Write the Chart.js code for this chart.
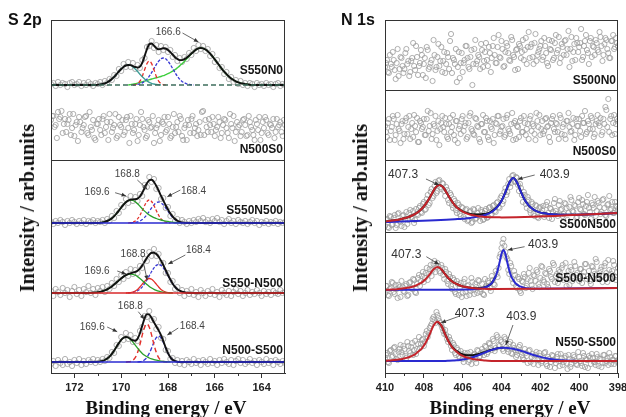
<!DOCTYPE html>
<html><head><meta charset="utf-8">
<script src="https://cdn.jsdelivr.net/npm/chart.js@4.4.1/dist/chart.umd.min.js"></script>
<style>
html,body{margin:0;padding:0;background:#fff;}
#wrap{position:relative;width:626px;height:417px;overflow:hidden;background:#fff;}
canvas{position:absolute;top:0;}
.t{position:absolute;white-space:nowrap;color:#111;}
.ptitle{font:bold 16px "Liberation Sans",Arial,sans-serif;line-height:16px;}
.xt{font:bold 19px "Liberation Serif","Times New Roman",serif;line-height:19px;transform:translateX(-50%);}
.yt{font:bold 20px "Liberation Serif","Times New Roman",serif;line-height:20px;transform:translate(-50%,-50%) rotate(-90deg);}
</style></head>
<body><div id="wrap">
<canvas id="cS" width="313" height="417" style="left:0"></canvas>
<canvas id="cN" width="313" height="417" style="left:313px"></canvas>
<div class="t ptitle" style="left:8px;top:12px">S 2p</div>
<div class="t ptitle" style="left:341px;top:12px">N 1s</div>
<div class="t yt" style="left:26.5px;top:208px">Intensity / arb.units</div>
<div class="t yt" style="left:359.5px;top:208px">Intensity / arb.units</div>
<div class="t xt" style="left:166px;top:398px">Binding energy / eV</div>
<div class="t xt" style="left:510px;top:398px">Binding energy / eV</div>
</div>
<script>
// ---------- axes ----------
const sRange = [173, 163];
const nRange = [410, 398];
const sTicks = [172, 170, 168, 166, 164];
const sMinor = [171, 169, 167, 165];
const nTicks = [410, 408, 406, 404, 402, 400, 398];
const nMinor = [409, 407, 405, 403, 401, 399];

// ---------- S 2p (stack offsets, a.u.) ----------
const sNames = ['S550N0', 'N500S0', 'S550N500', 'S550-N500', 'N500-S500'];
const sOffsets = [288, 243, 150, 80, 11];
const sDividers = [213];

// measured points, 173.0 -> 163.0 eV, 0.1 eV step
const s1Pts = [1,2,-1,3,0,2,1,-2,2,3, 0,1,3,-1,2,0,3,1,-1,2, 1,3,0,4,2,6,5,10,9,16, 14,21,18,23,18,22,16,20,17,25, 27,38,39,44,37,40,33,39,35,38, 33,35,28,30,24,27,23,28,26,32, 30,37,34,40,36,39,34,36,29,31, 23,25,17,18,11,13,6,8,3,5, 1,4,0,2,-1,2,1,-2,2,0, 1,-1,2,0,1,-2,1,2,-1,1, 0];
const s2Pts = [10,14,5,18,13,-3,11,6,16,2, -6,8,13,-2,5,14,-5,3,10,-10, 6,0,11,-3,8,16,-2,5,-8,13, 3,-5,10,2,14,-3,6,-11,5,11, 0,-6,8,3,-13,2,10,-5,6,-2, 13,-8,3,-3,8,14,-6,2,-10,5, 11,-3,6,0,-5,19,10,-2,5,13, -6,3,8,-3,11,2,-8,6,14,-2, 3,-6,10,5,-5,8,0,-10,6,13, -3,2,10,-5,5,11,-2,3,8,-6, 5];
// second scan of N500S0, 172.95 -> 163.05 eV
const s2Pts2 = [14,3,-8,11,19,6,-2,10,-5,16, 5,-11,8,2,13,-3,18,0,-8,6, 11,-5,14,3,-10,8,2,16,-6,5, 10,-2,13,-13,6,0,11,-5,18,3, -8,10,2,14,-3,5,-11,8,13,0, 6,-6,16,3,-2,11,-10,5,10,-3, 14,2,-6,8,18,-5,3,11,-2,6, 0,13,-8,5,10,-3,16,2,-11,8, 5,-2,11,-6,14,3,-5,10,0,-10, 8,13,-3,6,2,-8,11,5,-2,10];
const s3Pts = [1,-1,2,0,3,1,-2,2,0,3, 1,-1,2,0,3,-1,2,1,3,0, 2,1,3,0,4,2,7,5,12,10, 18,16,24,20,27,22,26,22,29,27, 38,36,46,41,44,34,35,24,25,15, 16,7,9,2,4,0,3,1,-1,2, 0,3,1,4,2,5,1,3,0,4, 2,5,1,3,-1,2,4,0,2,-1, 3,1,0,2,-1,1,3,0,2,-2, 1,0,2,-1,1,0,2,-1,1,0, 1];
const s4Pts = [2,-3,4,1,-2,5,0,3,-4,2, 6,-1,3,-3,4,1,7,0,4,-2, 5,2,6,1,7,4,10,7,14,11, 18,14,21,17,24,19,23,20,27,25, 34,32,41,37,44,37,39,30,30,20, 20,11,12,4,6,0,3,-3,2,-1, 4,-2,1,-4,3,0,-3,2,-1,4, -2,1,-4,3,0,-2,2,-3,1,4, -1,2,-3,0,3,-2,1,-1,3,0, -3,2,-1,1,-2,2,0,-1,3,0, 1];
const s5Pts = [-2,1,-4,2,-1,-3,3,-2,0,-4, 2,-1,3,-3,1,-2,2,0,3,-1, 2,0,3,1,5,4,10,9,17,16, 25,22,29,23,27,20,24,21,31,35, 46,45,51,42,43,33,35,24,23,12, 11,3,4,-1,2,-2,1,-3,2,0, -2,3,-1,1,-3,2,0,-2,3,-1, 1,-3,2,-1,3,0,-2,2,-3,1, 3,-1,2,-2,0,3,-1,1,-3,2, 0,-2,3,-1,1,-3,2,0,-2,1, -1];

// fitted components, 0.1 eV step, first energy given by *From
const s1CyanFrom = 171.1;
const s1Cyan = [0,0.3,0.6,1.0,1.7,2.7,4.1,6.0,8.2,10.8,13.5,16.0,18.1,19.5,20,19.5,18.1,16.0,13.5,10.8,8.2,6.0,4.1,2.7,1.7,1.0,0.6,0.3,0];
const s1RedFrom = 169.5;
const s1Red = [0,0.4,1.4,3.9,8.6,15.3,21.4,24,21.4,15.3,8.6,3.9,1.4,0.4,0];
const s1BlueFrom = 169.5;
const s1Blue = [0,0.3,0.6,1.2,2.2,3.6,5.8,8.8,12.4,16.4,20.4,23.8,26.2,27,26.2,23.8,20.4,16.4,12.4,8.8,5.8,3.6,2.2,1.2,0.6,0.3,0];
const s1GreenFrom = 169.7;
const s1Green = [0,0.4,0.8,1.3,1.9,2.5,3.2,3.9,4.6,5.3,6.0,6.6,7.2,7.8,8.5,9.3,10.3,11.3,12.5,13.9,15.4,17.2,19.1,21.3,23.6,26.1,28.7,31.2,33.5,35.4,36.6,37,36.6,35.5,33.8,31.4,28.7,25.6,22.4,19.3,16.2,13.3,10.8,8.5,6.6,5.0,3.7,2.7,1.9,1.4,0.9,0.6,0.3,0];
const s1EnvFrom = 171.1;
const s1Env = [0,0.3,0.6,1.0,1.7,2.7,4.1,6.0,8.2,10.8,13.5,16.0,18.1,19.5,20.0,19.9,18.9,18.0,17.4,18.4,22.2,28.8,35.9,40.8,41.5,39.3,36.8,35.8,36.1,36.7,36.5,35.1,32.9,30.3,27.8,26.0,24.9,24.9,25.8,27.3,29.3,31.5,33.5,35.4,36.6,37,36.6,35.5,33.8,31.4,28.7,25.6,22.4,19.3,16.2,13.3,10.8,8.5,6.6,5.0,3.7,2.7,1.9,1.4,0.9,0.6,0.3,0];

const s3GreenFrom = 171.0;
const s3Green = [0,0.3,0.6,1.2,2.0,3.1,4.7,6.9,9.5,12.4,15.5,18.4,20.8,22.4,23,22.5,21.2,19.2,16.8,14.3,11.9,9.8,8.0,6.6,5.4,4.5,3.7,3.0,2.4,1.9,1.5,1.1,0.8,0.5,0.3,0.1,0];
const s3RedFrom = 169.7;
const s3Red = [0,0.3,0.8,2.0,4.1,7.7,12.4,17.5,21.5,23,21.5,17.5,12.4,7.7,4.1,2.0,0.8,0.3,0];
const s3BlueFrom = 169.6;
const s3Blue = [0,0.3,0.5,1.1,2.0,3.5,5.6,8.4,11.7,15.1,18.1,20.2,21,20.2,18.1,15.1,11.7,8.4,5.6,3.5,2.0,1.1,0.5,0.3,0];
const s3EnvFrom = 171.0;
const s3Env = [0,0.3,0.6,1.2,2.0,3.1,4.7,6.9,9.5,12.4,15.5,18.4,20.8,22.4,23.3,23.6,23.7,24.4,26.5,30.2,35.0,39.7,42.7,43.2,41.0,37.1,32.4,27.3,22.5,17.8,13.5,9.5,6.4,4.0,2.3,1.2,0.5,0.3,0];

const s4GreenFrom = 171.4;
const s4Green = [0,0.2,0.3,0.5,0.7,1.2,1.8,2.6,3.6,5.0,6.6,8.5,10.5,12.6,14.6,16.4,17.8,18.7,19,18.7,17.8,16.4,14.6,12.6,10.5,8.5,6.6,5.0,3.6,2.6,1.8,1.2,0.7,0.5,0.3,0.2,0];
const s4RedFrom = 169.8;
const s4Red = [0,0.2,0.4,1.0,2.0,3.6,6.0,8.8,11.6,13.7,14.5,13.7,11.6,8.8,6.0,3.6,2.0,1.0,0.4,0.2,0];
const s4BlueFrom = 169.7;
const s4Blue = [0,0.3,0.7,1.3,2.3,3.8,6.2,9.3,13.1,17.3,21.5,25.1,27.6,28.5,27.6,25.1,21.5,17.3,13.1,9.3,6.2,3.8,2.3,1.3,0.7,0.3,0];
const s4EnvFrom = 171.4;
const s4Env = [0,0.2,0.3,0.5,0.7,1.2,1.8,2.6,3.6,5.0,6.6,8.5,10.5,12.6,14.6,16.4,17.8,18.9,19.7,20.4,21.1,22.3,24.4,27.6,31.4,35.3,38.4,40.2,40.3,39.0,36.3,32.4,27.8,23.0,18.0,13.5,9.3,6.2,3.8,2.3,1.3,0.7,0.3,0];

const s5GreenFrom = 171.1;
const s5Green = [0,0.3,0.6,1.1,2.0,3.4,5.4,8.1,11.5,15.2,18.9,22.1,24.2,25,24.3,22.5,19.9,16.9,13.8,11.0,8.6,6.7,5.2,4.0,3.1,2.4,1.8,1.3,0.9,0.6,0.3,0.1,0];
const s5RedFrom = 169.8;
const s5Red = [0,0.2,0.5,1.7,4.3,9.5,17.4,26.9,34.8,38,34.8,26.9,17.4,9.5,4.3,1.7,0.5,0.2,0];
const s5BlueFrom = 169.3;
const s5Blue = [0,0.3,0.9,2.2,4.7,8.7,14.0,19.8,24.3,26,24.3,19.8,14.0,8.7,4.7,2.2,0.9,0.3,0];
const s5EnvFrom = 171.1;
const s5Env = [0,0.3,0.6,1.1,2.0,3.4,5.4,8.1,11.5,15.2,18.9,22.1,24.2,25,24.5,23.0,21.6,21.2,23.3,28.7,36.4,43.7,47.9,47.5,44.0,39.6,35.6,31.6,26.9,20.9,14.5,8.8,4.7,2.2,0.9,0.3,0];

// ---------- N 1s ----------
const nNames = ['S500N0', 'N500S0', 'S500N500', 'S500-N500', 'N550-S500'];
const nOffsets = [318, 244, 151, 83, 12];
const nDividers = [283, 213, 141];

// measured points, 410.0 -> 398.0 eV, 0.1 eV step
const n1Pts = [-12,-5,-18,-9,3,-15,-8,-21,-2,-11, -14,6,-6,-17,-3,-11,9,-20,-8,0, -9,-23,5,-12,-5,15,-15,-2,-11,8, -6,-18,2,-14,21,-3,-9,-27,3,-8, -17,-5,9,-12,-2,-30,6,-9,0,-14, 5,-6,12,-11,2,-3,17,-8,8,-2, 14,-12,3,9,-5,18,0,-15,6,11, -3,15,5,-9,23,8,-2,12,-6,3, 9,-5,17,2,-11,6,14,-3,20,5, -8,11,0,15,6,-12,18,3,-5,12, 8,26,-2,14,5,-9,17,9,0,12, 3,18,-6,11,15,2,-3,14,6,17, 9];
const n2Pts = [3,-8,10,-2,13,-11,5,0,-14,8, -5,11,2,-10,6,14,-3,-13,8,0, 10,-6,18,3,-10,5,13,-2,-16,6, 2,11,-8,5,-3,14,-11,8,0,-5, 13,3,-10,6,16,-2,-6,10,2,-13, 5,-3,11,-8,8,0,-14,6,13,-5, 2,10,-6,14,-2,5,-11,8,3,-8, 11,-3,6,0,-10,13,5,-5,16,2, -6,8,-2,11,3,-13,10,0,6,-3, 14,-5,5,-10,8,2,-2,11,-6,3, 10,-8,6,18,-3,5,13,0,-5,8, 6,11,-3,5,19,30,10,-6,14,5, 8];
const n3Pts = [-4,3,-6,5,-2,7,-3,9,0,6, -5,10,2,12,4,-1,13,7,16,9, 20,13,27,19,33,26,40,31,42,33, 38,26,32,19,27,14,21,9,17,6, 14,3,13,2,11,0,12,4,14,1, 10,3,13,5,15,8,17,10,20,14, 26,21,34,30,43,39,47,40,44,31, 34,20,27,14,22,9,18,6,16,4, 15,12,5,17,9,14,3,19,11,6, 21,13,8,18,2,15,22,10,16,5, 24,12,18,7,20,14,3,17,25,11, 19,8,22,14,6,18,12,20,9,16, 13];
const n4Pts = [-3,4,-6,2,7,-4,1,5,-7,3, -2,6,-5,8,1,10,-3,12,4,14, 8,17,10,21,14,26,18,27,19,25, 15,21,9,16,4,12,-2,9,-5,7, -3,11,-6,5,-1,8,-4,3,10,-2, 6,-5,4,9,2,14,6,19,13,33, 42,51,38,31,16,24,7,15,2,11, -3,8,13,4,17,9,1,14,20,6, 12,23,8,16,3,19,11,25,14,7, 18,22,10,27,15,5,20,12,24,17, 9,21,14,26,11,19,6,23,16,28, 13,20,8,24,17,30,12,19,25,10, 22];
const n5Pts = [3,8,-2,11,5,14,2,9,16,6, 12,3,15,8,18,11,7,17,13,21, 15,27,24,33,37,44,38,46,40,36, 30,31,22,24,15,18,8,13,5,10, 2,8,4,-1,9,3,7,-2,10,5, 12,6,14,9,17,11,20,13,24,15, 19,10,22,12,17,8,16,11,6,14, 9,3,12,5,10,-1,7,2,9,-4, 5,0,8,-3,4,-6,6,1,-2,7, -5,3,-1,5,-8,2,-3,6,0,-4, 4,-2,8,-6,1,5,-3,3,-1,7, -5,2,-2,6,0,-4,4,1,-3,5, 0];
// second scans, 409.95 -> 398.05 eV, 0.1 eV step
const n1Pts2 = [-8,-17,0,-12,-5,-24,6,-14,-3,-18, 2,-9,-21,-6,12,-15,-2,-11,5,-20, -3,8,-14,-8,-26,0,-12,11,-6,-17, 3,-9,-2,14,-18,-5,6,-12,-23,2, -8,9,-3,-14,5,-9,15,-6,-2,11, -12,3,-5,8,-17,9,0,-8,20,-3, 6,-11,12,2,-6,15,-2,5,-14,9, 3,-5,17,8,-3,11,-9,21,0,6, 14,-2,9,-8,15,5,-5,12,2,18, -3,8,14,0,24,6,-6,11,17,3, 12,-5,9,20,2,14,-2,8,15,5, 23,9,0,17,6,-3,14,20,8,12];
const n2Pts2 = [-3,6,-11,2,10,-6,14,-2,5,-10, 8,-5,13,0,-8,3,11,-13,6,2, -6,10,-2,16,-5,3,-11,8,0,13, -3,5,-10,11,2,-6,8,-14,3,10, -2,6,-8,13,0,-5,11,3,-10,5, 14,-3,8,-11,2,10,-6,5,13,-2, 3,-8,11,0,-5,16,6,-10,2,8, -3,13,-6,5,10,-2,3,-11,8,14, 0,-5,10,2,-8,6,13,-3,5,-10, 11,2,-6,8,16,-3,5,-11,10,3, -2,13,6,-5,8,0,11,-8,5,14, 3,-6,10,22,2,-3,13,6,-5,10];
const n3Pts2 = [2,-5,6,-3,4,-6,8,1,-4,7, 3,-2,9,5,11,2,8,14,10,18, 12,23,17,30,24,36,29,41,35,39, 31,35,22,29,17,23,12,19,8,15, 5,12,1,10,-1,13,3,9,6,12, 2,11,4,14,7,16,11,19,15,24, 18,30,27,38,35,46,41,45,37,38, 27,30,18,25,12,20,8,17,5,14, 9,16,7,20,4,13,10,23,8,17, 12,6,19,14,9,25,11,17,4,20, 13,22,8,16,27,10,19,14,6,21, 15,10,23,7,17,26,13,9,20,15];
const n4Pts2 = [4,-5,1,8,-2,5,-8,3,9,-1, 4,-6,7,2,11,-2,6,15,9,18, 12,22,16,25,20,29,23,24,17,22, 11,18,6,13,1,10,-4,6,2,-7, 8,-2,4,-5,12,0,6,-3,9,1, -4,11,3,7,-1,10,5,16,22,36, 47,44,33,20,27,11,19,4,13,-1, 9,16,2,11,22,5,15,9,18,3, 24,10,17,6,21,13,27,8,16,20, 11,25,14,4,19,23,9,28,15,12, 21,7,18,26,14,9,24,19,31,11, 17,23,14,27,8,20,16,29,13,18];
const n5Pts2 = [6,-1,10,4,13,7,1,12,9,15, 5,19,10,14,6,20,12,24,17,22, 19,30,28,35,42,41,49,43,38,33, 27,26,19,21,11,16,6,11,3,7, -1,5,8,1,-3,6,2,11,4,8, 9,15,7,18,13,22,10,26,16,21, 12,24,14,9,19,7,13,4,10,16, 6,1,8,-2,11,4,-3,6,1,8, -2,3,9,-5,2,-1,5,-7,4,0, 7,-4,3,-2,6,-6,1,4,-3,9, 0,-5,5,2,-7,3,7,-1,-4,4, 2,-6,6,-2,3,8,-3,1,5,-1];

// fitted curves (background included); backgrounds at 410 and 398 eV
const n3Bg = [0, 9];
const n3RedFrom = 410.0, n3RedStep = 0.2;
const n3Red = [0.5,0.9,1.4,2.0,2.8,3.8,4.9,6.5,8.6,11.5,15.5,21.1,27.8,34.4,37.1,34.7,28.4,22.0,16.7,13.0,10.4,8.6,7.3,6.5,5.8,5.4,5.0,4.8,4.7,4.7,4.6];
const n3BlueFrom = 406.4, n3BlueStep = 0.2;
const n3Blue = [2.7,3.0,3.3,3.7,4.1,4.7,5.4,6.3,7.3,9.0,11.6,15.4,21.1,29.6,39.2,44.0,39.5,30.2,22.0,16.6,13.1,10.8,9.4,8.7,8.1,7.7,7.4,7.3,7.2,7.2,7.2];
const n3EnvFrom = 410.0, n3EnvStep = 0.2;
const n3Env = [0.5,0.9,1.4,2.0,2.8,3.8,4.9,6.5,8.6,11.5,15.5,21.1,27.8,34.4,37.1,34.7,28.4,22.0,16.7,13.1,10.7,9.1,8.1,7.7,7.6,7.9,8.4,9.7,12.1,15.7,21.2,29.6,39.2,44.0,39.5,30.2,22.0,16.6,13.1,10.8,9.4,8.7,8.1,7.7,7.4,7.3,7.2,7.2,7.2];

const n4Bg = [0, 2];
const n4RedFrom = 409.9, n4RedStep = 0.2;
const n4Red = [0.2,0.4,0.6,0.9,1.4,2.0,2.7,3.8,5.6,7.6,11.0,15.6,20.7,23.0,20.8,15.7,11.2,7.9,5.9,4.2,3.2,2.5,2.0,1.6,1.3,1.2,1.1,1.0,1.0];
const n4BlueFrom = 405.4, n4BlueStep = 0.1;
const n4Blue = [0.8,0.9,1.1,1.3,1.7,2.3,3.0,3.9,5.2,6.9,10.0,13.6,19.4,27.4,36.1,40.0,36.1,27.5,19.5,13.7,10.2,7.1,5.4,4.2,3.3,2.6,2.1,1.7,1.5,1.4,1.3];
const n4EnvFrom = 407.1, n4EnvStep = 0.2;
const n4Env = [20.8,15.7,11.2,7.9,5.9,4.2,3.2,2.5,2.0,1.7,1.8,2.6,4.1,7.0,13.6];

const n5Bg = [0, 0];
const n5RedFrom = 409.9, n5RedStep = 0.2;
const n5Red = [0.3,0.6,0.9,1.4,2.1,3.1,4.3,6.1,9.2,12.7,18.5,26.6,35.4,39.3,35.4,26.6,18.5,12.7,9.2,6.1,4.3,3.1,2.1,1.4,0.9,0.6,0.3,0.1,0];
const n5BlueFrom = 407.1, n5BlueStep = 0.2;
const n5Blue = [0,0.1,0.3,0.5,0.7,1.2,1.8,2.6,3.7,5.0,6.5,8.1,9.7,11.1,12.3,13.0,13.3,13.1,12.6,11.8,10.8,9.6,8.3,7.0,5.7,4.6,3.6,2.7,2.0,1.4,1.0,0.7,0.5,0.3,0.2,0.1,0];
const n5EnvFrom = 407.3, n5EnvStep = 0.2;
const n5Env = [39.3,35.4,26.7,18.8,13.2,9.9,7.3,6.1,5.7,5.8,6.4,7.4,8.7,10.0,11.2,12.3,13.0,13.3];

// peak annotation texts
const sPeakText = ['166.6','168.8','169.6','168.4','168.8','169.6','168.4','168.8','169.6','168.4'];
const nPeakText = ['407.3','403.9','407.3','403.9','407.3','403.9'];

// ---------- helpers ----------
function ser(from, step, vals, off) {
  return vals.map((v, i) => ({ x: Math.round((from - i * step) * 100) / 100, y: off + v }));
}
function ext(arr, xl, yl, xr, yr) {
  const o = arr.slice();
  if (o[0].x < xl) o.unshift({ x: xl, y: yl });
  if (o[o.length - 1].x > xr) o.push({ x: xr, y: yr });
  return o;
}
function curve(data, color, width, dash, order) {
  return { data, showLine: true, borderColor: color, backgroundColor: color, borderWidth: width,
    borderDash: dash || [], pointRadius: 0, pointHoverRadius: 0, fill: false,
    cubicInterpolationMode: 'monotone', order };
}
function pts(data) {
  return { data, showLine: false, pointRadius: 2.6, pointHoverRadius: 0, pointBorderWidth: 0.8,
    borderColor: '#9c9c9c', backgroundColor: 'rgba(255,255,255,0)',
    pointBorderColor: '#9c9c9c', pointBackgroundColor: 'rgba(255,255,255,0)', order: 9 };
}
function flat(off, r, color, width, dash, order) {
  return curve([{ x: r[0], y: off }, { x: r[1], y: off }], color, width, dash, order);
}

// ---------- S datasets ----------
const so = sOffsets;
const sDs = [
  pts(ser(173, 0.1, s1Pts, so[0])),
  flat(so[0], sRange, '#3e6e5c', 1.4, [5, 3], 1),
  curve(ext(ser(s1EnvFrom, 0.1, s1Env, so[0]), 173, so[0], 163, so[0]), '#111', 1.9, null, 2),
  curve(ser(s1CyanFrom, 0.1, s1Cyan, so[0]), '#3c9c96', 1.3, null, 3),
  curve(ser(s1RedFrom, 0.1, s1Red, so[0]), '#e4312b', 1.3, [4, 2.5], 3),
  curve(ser(s1BlueFrom, 0.1, s1Blue, so[0]), '#3838d4', 1.3, [3, 1.5], 3),
  curve(ser(s1GreenFrom, 0.1, s1Green, so[0]), '#3fcf3f', 1.4, null, 3),

  pts(ser(173, 0.1, s2Pts, so[1])),
  pts(ser(172.95, 0.1, s2Pts2, so[1])),

  pts(ser(173, 0.1, s3Pts, so[2])),
  flat(so[2], sRange, '#2a2ad0', 1.5, null, 1),
  curve(ext(ser(s3EnvFrom, 0.1, s3Env, so[2]), 173, so[2], 163, so[2]), '#111', 1.9, null, 2),
  curve(ser(s3GreenFrom, 0.1, s3Green, so[2]), '#2aa02a', 1.3, null, 3),
  curve(ser(s3RedFrom, 0.1, s3Red, so[2]), '#e4312b', 1.3, [3, 2], 3),
  curve(ser(s3BlueFrom, 0.1, s3Blue, so[2]), '#3838d4', 1.3, [3, 2], 3),

  pts(ser(173, 0.1, s4Pts, so[3])),
  flat(so[3], sRange, '#d8282a', 1.5, null, 1),
  curve(ext(ser(s4EnvFrom, 0.1, s4Env, so[3]), 173, so[3], 163, so[3]), '#111', 1.9, null, 2),
  curve(ser(s4GreenFrom, 0.1, s4Green, so[3]), '#2aa02a', 1.3, null, 3),
  curve(ser(s4RedFrom, 0.1, s4Red, so[3]), '#e4312b', 1.3, null, 3),
  curve(ser(s4BlueFrom, 0.1, s4Blue, so[3]), '#3838d4', 1.3, [3, 1.5], 3),

  pts(ser(173, 0.1, s5Pts, so[4])),
  flat(so[4], sRange, '#2a2ad0', 1.5, null, 1),
  curve(ext(ser(s5EnvFrom, 0.1, s5Env, so[4]), 173, so[4], 163, so[4]), '#111', 1.9, null, 2),
  curve(ser(s5GreenFrom, 0.1, s5Green, so[4]), '#2aa02a', 1.3, null, 3),
  curve(ser(s5RedFrom, 0.1, s5Red, so[4]), '#e4312b', 1.4, [5, 3], 3),
  curve(ser(s5BlueFrom, 0.1, s5Blue, so[4]), '#3838d4', 1.4, [4, 2], 3)
];

// ---------- N datasets ----------
const no = nOffsets;
function nCurve(from, step, vals, off, bg, color, width, order) {
  return curve(ext(ser(from, step, vals, off), nRange[0], off + bg[0], nRange[1], off + bg[1]), color, width, null, order);
}
const nRed = '#c4242b', nBlue = '#2a2ad0';
const nDs = [
  pts(ser(410, 0.1, n1Pts, no[0])),
  pts(ser(409.95, 0.1, n1Pts2, no[0])),
  pts(ser(410, 0.1, n2Pts, no[1])),
  pts(ser(409.95, 0.1, n2Pts2, no[1])),

  pts(ser(410, 0.1, n3Pts, no[2])),
  pts(ser(409.95, 0.1, n3Pts2, no[2])),
  nCurve(n3EnvFrom, n3EnvStep, n3Env, no[2], n3Bg, '#111', 2, 3),
  nCurve(n3RedFrom, n3RedStep, n3Red, no[2], n3Bg, nRed, 2, 1),
  nCurve(n3BlueFrom, n3BlueStep, n3Blue, no[2], n3Bg, nBlue, 2, 2),

  pts(ser(410, 0.1, n4Pts, no[3])),
  pts(ser(409.95, 0.1, n4Pts2, no[3])),
  curve(ser(n4EnvFrom, n4EnvStep, n4Env, no[3]), '#111', 2, null, 3),
  nCurve(n4RedFrom, n4RedStep, n4Red, no[3], n4Bg, nRed, 2, 1),
  nCurve(n4BlueFrom, n4BlueStep, n4Blue, no[3], n4Bg, nBlue, 2, 2),

  pts(ser(410, 0.1, n5Pts, no[4])),
  pts(ser(409.95, 0.1, n5Pts2, no[4])),
  curve(ser(n5EnvFrom, n5EnvStep, n5Env, no[4]), '#111', 2, null, 3),
  nCurve(n5RedFrom, n5RedStep, n5Red, no[4], n5Bg, nRed, 2, 1),
  nCurve(n5BlueFrom, n5BlueStep, n5Blue, no[4], n5Bg, nBlue, 2, 2)
];

// ---------- annotation layout (data coordinates) ----------
const sNoteAt = [[167.99,340.3],[169.74,199],[171.03,180.3],[166.91,181.3],[169.49,119],[171.03,101.3],[166.70,122.3],[169.61,66.3],[171.24,45.3],[166.96,46.3]];
const sArrowAt = [[167.38,340,166.70,331],[169.31,193,168.89,184],[170.26,180.3,169.79,177],[167.47,183,168.03,176.3],[169.06,111.3,168.89,93],[170.17,102,169.79,99],[167.26,118,167.99,109],[169.27,61.3,169.01,53.7],[170.6,46,170.17,41.3],[167.56,45,168.03,38]];
const sNameAt = [302, 223, 162, 89.7, 22];
const nNoteAt = [[409.07,198],[401.26,198],[408.9,118],[401.86,128],[405.64,59.7],[402.98,56.3]];
const nArrowAt = [[407.89,194,407.22,188],[402.29,198,403.15,193.7],[407.87,116.3,407.22,108.7],[402.81,126.3,403.67,123],[406.15,57,407.1,50.3],[403.41,48,403.78,28]];
const nNameAt = [292, 221.3, 148, 94.7, 30.3];

function overlay(key, texts, noteAt, arrows, names, nameAt, dividers, minor, noteFont, noteColor) {
  return { id: 'ov' + key, afterDatasetsDraw(chart) {
    const ctx = chart.ctx, a = chart.chartArea, X = chart.scales.x, Y = chart.scales.y;
    ctx.save();
    ctx.strokeStyle = '#333'; ctx.lineWidth = 1;
    dividers.forEach(v => {
      const py = Math.round(Y.getPixelForValue(v)) + 0.5;
      ctx.beginPath(); ctx.moveTo(a.left, py); ctx.lineTo(a.right, py); ctx.stroke();
    });
    ctx.strokeRect(a.left + 0.5, a.top + 0.5, a.right - a.left - 1, a.bottom - a.top);
    minor.forEach(m => {
      const px = Math.round(X.getPixelForValue(m)) + 0.5;
      ctx.beginPath(); ctx.moveTo(px, a.bottom); ctx.lineTo(px, a.bottom + 3); ctx.stroke();
    });
    ctx.fillStyle = noteColor; ctx.font = noteFont; ctx.textAlign = 'center'; ctx.textBaseline = 'middle';
    texts.forEach((t, i) => ctx.fillText(t, X.getPixelForValue(noteAt[i][0]), Y.getPixelForValue(noteAt[i][1])));
    ctx.strokeStyle = '#444'; ctx.fillStyle = '#333'; ctx.lineWidth = 0.8;
    arrows.forEach(r => {
      const x1 = X.getPixelForValue(r[0]), y1 = Y.getPixelForValue(r[1]);
      const x2 = X.getPixelForValue(r[2]), y2 = Y.getPixelForValue(r[3]);
      const ang = Math.atan2(y2 - y1, x2 - x1);
      ctx.beginPath(); ctx.moveTo(x1, y1); ctx.lineTo(x2, y2); ctx.stroke();
      ctx.beginPath(); ctx.moveTo(x2, y2);
      ctx.lineTo(x2 - 4.5 * Math.cos(ang) + 2 * Math.sin(ang), y2 - 4.5 * Math.sin(ang) - 2 * Math.cos(ang));
      ctx.lineTo(x2 - 4.5 * Math.cos(ang) - 2 * Math.sin(ang), y2 - 4.5 * Math.sin(ang) + 2 * Math.cos(ang));
      ctx.closePath(); ctx.fill();
    });
    ctx.fillStyle = '#151515'; ctx.font = 'bold 12px "Liberation Sans", Arial, sans-serif'; ctx.textAlign = 'right';
    names.forEach((n, i) => ctx.fillText(n, a.right - 2, Y.getPixelForValue(nameAt[i])));
    ctx.restore();
  } };
}

Chart.defaults.font.family = '"Liberation Sans", Arial, sans-serif';
function makeChart(id, padL, padR, range, ticks, datasets, ov) {
  return new Chart(document.getElementById(id), {
    type: 'scatter',
    data: { datasets },
    options: {
      responsive: false, animation: false, events: [],
      layout: { padding: { left: padL, right: padR, top: 20, bottom: 0 } },
      plugins: { legend: { display: false }, tooltip: { enabled: false } },
      scales: {
        x: { type: 'linear', min: range[1], max: range[0], reverse: true,
          afterBuildTicks(s) { s.ticks = ticks.map(v => ({ value: v })); },
          afterFit(s) { s.height = 44; s.paddingLeft = 0; s.paddingRight = 0; },
          grid: { drawOnChartArea: false, drawTicks: true, tickLength: 5, color: '#333', tickColor: '#333' },
          border: { display: true, color: '#333', width: 1 },
          ticks: { font: { size: 11, weight: 'bold' }, color: '#222', padding: 3, maxRotation: 0, minRotation: 0, autoSkip: false, callback: v => String(v) } },
        y: { display: false, min: 0, max: 353 }
      }
    },
    plugins: [ov]
  });
}

makeChart('cS', 51, 28, sRange, sTicks, sDs,
  overlay('S', sPeakText, sNoteAt, sArrowAt, sNames, sNameAt, sDividers, sMinor, '10px "Liberation Sans", Arial, sans-serif', '#444'));
makeChart('cN', 72, 8, nRange, nTicks, nDs,
  overlay('N', nPeakText, nNoteAt, nArrowAt, nNames, nNameAt, nDividers, nMinor, '12px "Liberation Sans", Arial, sans-serif', '#333'));
</script>
</body></html>
